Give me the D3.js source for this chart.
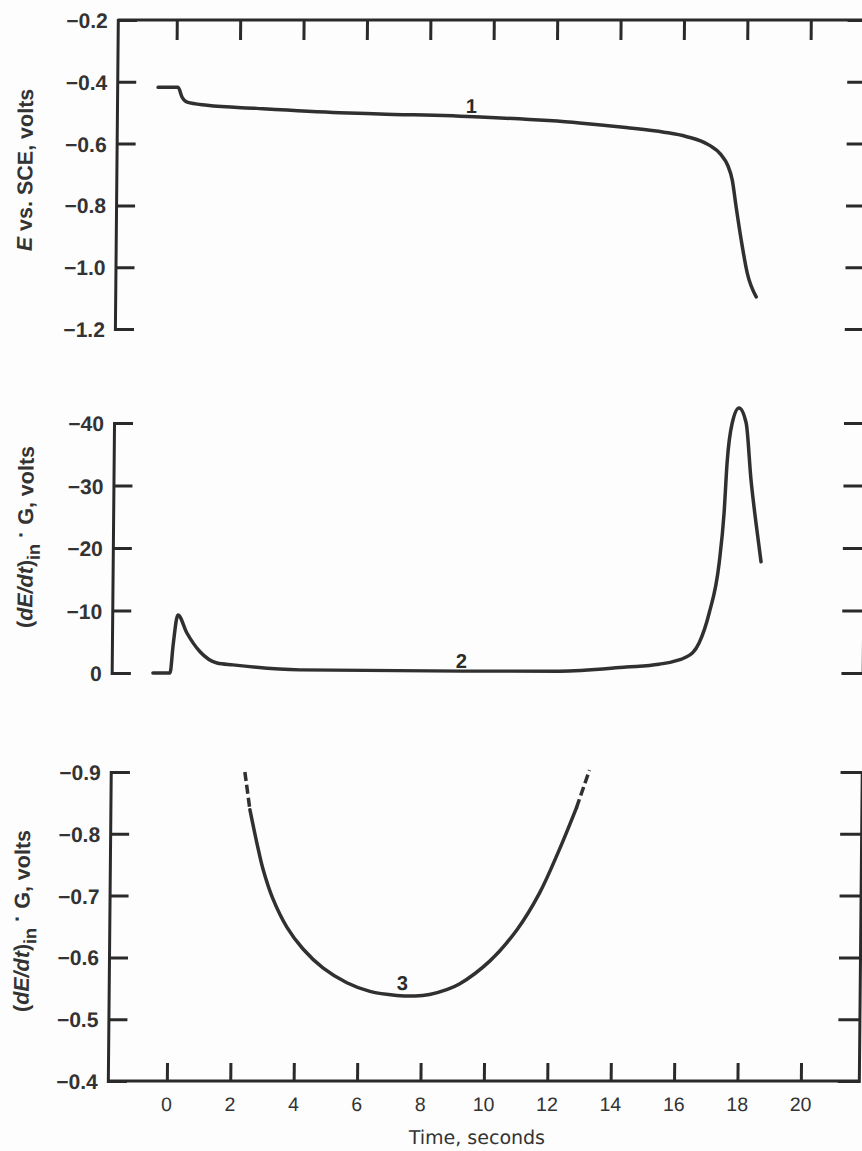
<!DOCTYPE html>
<html>
<head>
<meta charset="utf-8">
<script src="https://cdn.jsdelivr.net/npm/d3@7"></script>
<style>
  html, body { margin: 0; padding: 0; background: #fdfdfd; }
  svg { display: block; }
  text { font-family: "Liberation Sans", Arial, sans-serif; fill: #2b2b2b; }
</style>
</head>
<body>
<svg id="chart" width="862" height="1151"></svg>
<script>
// Time axis (seconds)
const timeTicks = [0, 2, 4, 6, 8, 10, 12, 14, 16, 18, 20];

// Panel 1: potential E vs. SCE (volts)
const eTicks = [-0.2, -0.4, -0.6, -0.8, -1.0, -1.2];
const time1 = [-0.57, 0.06, 0.19, 0.35, 0.98, 2.55, 5.17, 6.43, 9.6, 12.73, 14.2, 15.4, 16.1, 16.83, 17.2, 17.42, 17.57, 17.7, 17.87, 18.07, 18.36];
const potential1 = [-0.418, -0.418, -0.45, -0.466, -0.476, -0.486, -0.5, -0.504, -0.514, -0.533, -0.548, -0.563, -0.577, -0.605, -0.635, -0.67, -0.718, -0.805, -0.912, -1.019, -1.096];

// Panel 2: (dE/dt)in * G (volts)
const derivTicks = [-40, -30, -20, -10, 0];
const time2 = [-0.56, -0.02, 0.07, 0.21, 0.5, 0.92, 1.46, 1.96, 4.07, 9.2, 12.26, 14.37, 15.4, 16.26, 16.66, 16.97, 17.27, 17.41, 17.49, 17.64, 17.85, 18.08, 18.25, 18.42, 18.59];
const deriv2 = [0, 0, -4.5, -9.3, -6.4, -3.4, -1.6, -1.3, -0.5, -0.3, -0.3, -0.96, -1.4, -2.56, -4.8, -9.6, -17.6, -25.6, -33.6, -40, -42.4, -40, -30.9, -24, -17.8];

// Panel 3: (dE/dt)in * G (volts), expanded scale
const deriv3Ticks = [-0.9, -0.8, -0.7, -0.6, -0.5, -0.4];
const time3 = [2.37, 2.54, 2.77, 2.97, 3.29, 3.74, 4.25, 4.89, 5.65, 6.38, 7.23, 7.8, 8.26, 8.8, 9.2, 10.15, 10.99, 11.7, 12.31, 12.84, 13.24];
const deriv3 = [-0.9, -0.839, -0.785, -0.743, -0.695, -0.649, -0.614, -0.583, -0.559, -0.545, -0.5385, -0.5375, -0.54, -0.548, -0.557, -0.594, -0.644, -0.704, -0.774, -0.842, -0.903];

// Curve labels: [time, value]
const label1 = [9.32, -0.477];
const label2 = [9.17, -1.9];
const label3 = [7.4, -0.559];

const svg = d3.select("#chart");
const ink = "#2a2a2a";

// Whole figure is slightly sheared (left edge leans)
const root = svg.append("g")
  .attr("transform", `skewX(${Math.atan(-0.0094) * 180 / Math.PI})`);

const left = 118, right = 869;
const x = d3.scaleLinear().domain([0, 20]).range([177, 811]);
const y1 = d3.scaleLinear().domain([-0.2, -1.2]).range([20, 329]);
const y2 = d3.scaleLinear().domain([-40, 0]).range([423, 673]);
const y3 = d3.scaleLinear().domain([-0.9, -0.4]).range([772, 1081]);

function styleAxis(g) {
  g.selectAll("path, line").attr("stroke", ink).attr("stroke-width", 3);
  g.selectAll("text").remove();
}

// Left and right bracketed axes for each panel
function panelAxes(yScale, ticks, fmt) {
  const gl = root.append("g").attr("transform", `translate(${left},0)`)
    .call(d3.axisRight(yScale).tickValues(ticks).tickSize(19).tickSizeOuter(19).tickFormat(fmt));
  gl.selectAll("path, line").attr("stroke", ink).attr("stroke-width", 3);
  gl.selectAll("text")
    .attr("x", -10).attr("dy", "0.36em")
    .attr("text-anchor", "end")
    .style("font-size", "21px").style("font-weight", "bold").style("fill", "#333");

  const gr = root.append("g").attr("transform", `translate(${right},0)`)
    .call(d3.axisLeft(yScale).tickValues(ticks).tickSize(21).tickSizeOuter(21));
  styleAxis(gr);
}

const minus = s => s.replace("-", "\u2212");
panelAxes(y1, eTicks, d => minus(d3.format(".1f")(d)));
panelAxes(y2, derivTicks, d => minus(d3.format("d")(d)));
panelAxes(y3, deriv3Ticks, d => minus(d3.format(".1f")(d)));

// Top and bottom frame lines
root.append("line").attr("x1", left).attr("x2", right).attr("y1", 20).attr("y2", 20)
  .attr("stroke", ink).attr("stroke-width", 3);
root.append("line").attr("x1", left).attr("x2", right).attr("y1", 1081).attr("y2", 1081)
  .attr("stroke", ink).attr("stroke-width", 3);

// Time ticks along top and bottom
const gt = root.append("g").attr("transform", "translate(0,20)")
  .call(d3.axisBottom(x).tickValues(timeTicks).tickSize(20).tickSizeOuter(0));
styleAxis(gt); gt.select(".domain").remove();

const gb = root.append("g").attr("transform", "translate(0,1081)")
  .call(d3.axisTop(x).tickValues(timeTicks).tickSize(18).tickSizeOuter(0));
styleAxis(gb); gb.select(".domain").remove();

root.append("g").selectAll("text").data(timeTicks).join("text")
  .attr("x", d => x(d)).attr("y", 1111)
  .attr("text-anchor", "middle")
  .style("font-size", "19.5px").style("fill", "#333")
  .text(d => d);

root.append("text")
  .attr("x", x(9.8)).attr("y", 1144)
  .attr("text-anchor", "middle")
  .style("font-family", "'DejaVu Sans', sans-serif")
  .style("font-size", "19px").style("fill", "#333")
  .text("Time, seconds");

// Y-axis titles
function yTitle(cx, cy, build) {
  const t = root.append("text")
    .attr("transform", `translate(${cx},${cy}) rotate(-90)`)
    .attr("text-anchor", "middle")
    .style("font-size", "21.5px").style("font-weight", "bold").style("fill", "#333");
  build(t);
}
yTitle(34, 170, t => {
  t.append("tspan").style("font-style", "italic").text("E");
  t.append("tspan").text(" vs. SCE, volts");
});
function derivTitle(t) {
  t.append("tspan").text("(");
  t.append("tspan").style("font-style", "italic").text("dE/dt");
  t.append("tspan").text(")");
  t.append("tspan").attr("dy", 7).style("font-size", "18px").text("in");
  t.append("tspan").attr("dy", -12).text(" \u00b7 ");
  t.append("tspan").attr("dy", 5).text("G, volts");
}
yTitle(38, 537, derivTitle);
yTitle(38, 921, derivTitle);

// Curves
const curveStyle = p => p.attr("fill", "none").attr("stroke", "#303030")
  .attr("stroke-width", 3.5).attr("stroke-linecap", "round").attr("stroke-linejoin", "round");

const pts1 = time1.map((t, i) => [t, potential1[i]]);
const pts2 = time2.map((t, i) => [t, deriv2[i]]);
const pts3 = time3.map((t, i) => [t, deriv3[i]]);

const line1 = d3.line().x(d => x(d[0])).y(d => y1(d[1])).curve(d3.curveMonotoneX);
const line2 = d3.line().x(d => x(d[0])).y(d => y2(d[1])).curve(d3.curveMonotoneX);
const line3 = d3.line().x(d => x(d[0])).y(d => y3(d[1])).curve(d3.curveCatmullRom.alpha(0.5));

root.append("path").attr("d", line1(pts1)).call(curveStyle);
root.append("path").attr("d", line2(pts2)).call(curveStyle);
// Panel 3: solid body, dashed extremes
root.append("path").attr("d", line3(pts3.slice(1, pts3.length - 1))).call(curveStyle);
root.append("path").attr("d", line3(pts3.slice(0, 2))).call(curveStyle).attr("stroke-dasharray", "9,4").attr("stroke-linecap", "butt");
root.append("path").attr("d", line3(pts3.slice(pts3.length - 2))).call(curveStyle).attr("stroke-dasharray", "9,4").attr("stroke-linecap", "butt");

// Curve numbers
function curveLabel(p, yScale, txt) {
  root.append("text").attr("x", x(p[0])).attr("y", yScale(p[1]))
    .attr("text-anchor", "middle").attr("dy", "0.36em")
    .style("font-size", "20px").style("font-weight", "bold").style("fill", "#2b2b2b")
    .text(txt);
}
curveLabel(label1, y1, "1");
curveLabel(label2, y2, "2");
curveLabel(label3, y3, "3");
</script>
</body>
</html>
